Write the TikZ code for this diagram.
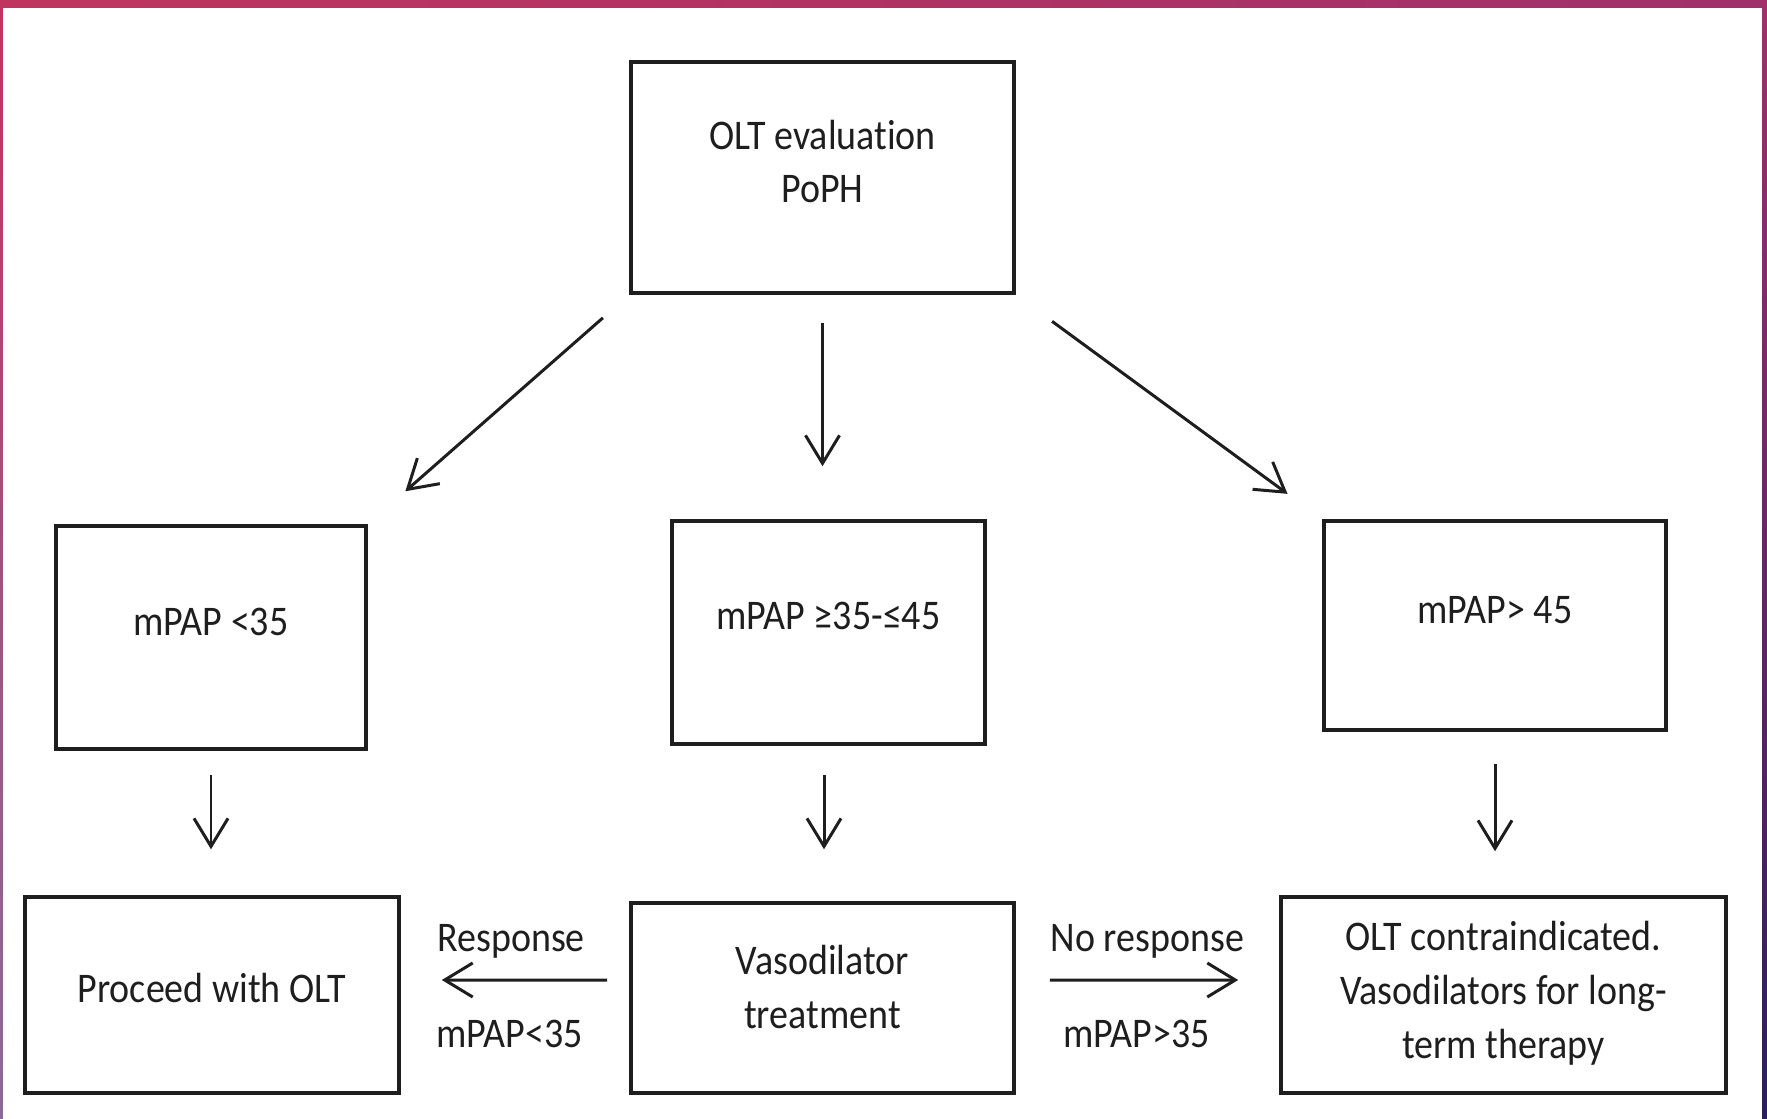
\documentclass[tikz,border=0pt]{standalone}
\usepackage{fontspec}
\setmainfont{Carlito}[FakeStretch=0.9, Ligatures=NoCommon]
\usetikzlibrary{arrows.meta}

\definecolor{pinkA}{HTML}{BF355F}
\definecolor{pinkB}{HTML}{A0306A}
\definecolor{purpA}{HTML}{8A6A98}
\definecolor{navyA}{HTML}{2B1E5C}
\definecolor{ink}{HTML}{1E1E1E}

\tikzset{
 box/.style={draw=ink, line width=0.95pt, inner sep=0pt},
 arr/.style={draw=ink, line width=0.85pt, -{Straight Barb[length=0.28cm,width=0.34cm]}},
 lbl/.style={font=\fontsize{12}{15.3}\selectfont, align=center, text=ink, inner sep=0pt},
 every label/.style={lbl},
}

\begin{document}
\begin{tikzpicture}[x=0.01cm,y=-0.01cm]
 \useasboundingbox (0,0) rectangle (1767,1118);
 % frame
 \shade[left color=pinkA, right color=pinkB] (0,0) rectangle (1767,8);
 \shade[top color=pinkA, bottom color=purpA] (0,0) rectangle (3,1118);
 \shade[top color=pinkB, bottom color=navyA] (1762,0) rectangle (1767,1118);
 \fill[white] (3,8) rectangle (1762,1118);

 % boxes
 \node[box, minimum width=3.83cm, minimum height=2.31cm, label={[name=evalt, yshift=0.16cm]center:OLT evaluation\\PoPH}] (eval) at (822.5,177.5) {};
 \node[box, minimum width=3.10cm, minimum height=2.23cm, label={[name=lowLt, yshift=0.155cm]center:mPAP <35}] (lowL) at (211,637.5) {};
 \node[box, minimum width=3.13cm, minimum height=2.23cm, label={[name=lowMt, yshift=0.165cm]center:mPAP ≥35-≤45}] (lowM) at (828.5,632.5) {};
 \node[box, minimum width=3.42cm, minimum height=2.09cm, label={[name=lowRt, yshift=0.155cm]center:mPAP> 45}] (lowR) at (1495,625.5) {};
 \node[box, minimum width=3.74cm, minimum height=1.96cm, label={[name=procdt, yshift=0.07cm]center:Proceed with OLT}] (procd) at (212,995) {};
 \node[box, minimum width=3.83cm, minimum height=1.90cm, label={[name=vasot, yshift=0.11cm]center:Vasodilator\\treatment}] (vaso) at (822.5,998) {};
 \node[box, minimum width=4.45cm, minimum height=1.96cm, label={[name=contrat, yshift=0.02cm]center:OLT contraindicated.\\Vasodilators for long-\\term therapy}] (contra) at (1503.5,995) {};

 % arrows from the evaluation
 \draw[arr, shorten <=0.35cm, shorten >=0.5cm] (eval.south west) -- (lowL.north east);
 \draw[arr, shorten <=0.28cm, shorten >=0.53cm] (eval.south) -- (eval.south |- lowM.north);
 \draw[arr, shorten <=0.45cm, shorten >=0.43cm] (eval.south east) -- (lowR.north west);

 % arrows down
 \draw[arr, shorten <=0.24cm, shorten >=0.46cm] (lowL.south) -- (lowL.south |- procd.north);
 \draw[arr, shorten <=0.29cm, shorten >=0.52cm] ([xshift=-0.045cm]lowM.south) -- ([xshift=-0.045cm]lowM.south |- vaso.north);
 \draw[arr, shorten <=0.32cm, shorten >=0.44cm] (lowR.south) -- (lowR.south |- contra.north);

 % response arrows
 \draw[arr, shorten <=0.22cm, shorten >=0.41cm] ([yshift=0.18cm]vaso.west) --
  node[lbl, anchor=base west, xshift=-0.79cm, yshift=0.28cm] (resp) {Response}
  node[lbl, anchor=base west, xshift=-0.80cm, yshift=-0.67cm] (respv) {mPAP<35}
  ([yshift=0.15cm]procd.east);
 \draw[arr, shorten <=0.34cm, shorten >=0.41cm] ([yshift=0.18cm]vaso.east) --
  node[lbl, anchor=base, yshift=0.28cm] (noresp) {No response}
  node[lbl, anchor=base, xshift=-0.11cm, yshift=-0.67cm] (norespv) {mPAP>35}
  ([yshift=0.15cm]contra.west);
\end{tikzpicture}
\end{document}
